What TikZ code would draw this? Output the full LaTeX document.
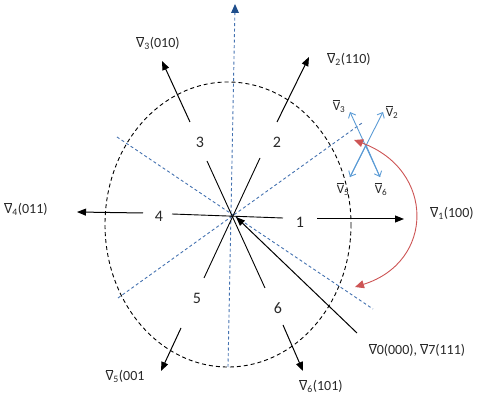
\documentclass[tikz,border=0pt]{standalone}
\usepackage{fontspec}
\setmainfont{Carlito}
\usetikzlibrary{arrows.meta}
\definecolor{bdash}{RGB}{68,114,176}
\definecolor{bdark}{RGB}{31,78,140}
\definecolor{blight}{RGB}{91,155,213}
\definecolor{redarc}{RGB}{205,85,85}
\definecolor{txt}{RGB}{40,40,40}
\newcommand{\vbar}{\ensuremath{\overline{\hbox{V}}}}
\tikzset{
  vec/.style={line width=1pt,-{Triangle[length=9pt,width=7pt]}},
  axis/.style={line width=0.9pt},
  bluedash/.style={bdash,line width=0.9pt,dash pattern=on 3pt off 2.5pt},
  ell/.style={line width=0.9pt,dash pattern=on 4pt off 3pt},
  lbl/.style={text=txt,font=\fontsize{14}{16}\selectfont,inner sep=0pt},
  num/.style={text=txt,font=\fontsize{16}{18}\selectfont,inner sep=0pt},
  small/.style={text=txt,font=\fontsize{13}{15}\selectfont,inner sep=0pt},
  star/.style={blight,line width=0.9pt,-{Straight Barb[length=4.5pt,width=8pt]}},
  redarrow/.style={redarc,line width=0.9pt,{Triangle[length=9pt,width=8pt]}-{Triangle[length=9pt,width=8pt]}}
}
\begin{document}
\begin{tikzpicture}[x=1pt,y=-1pt]
\useasboundingbox (0,0) rectangle (480,398);
% dashed ellipse
\draw[ell] (228,224.5) ellipse [x radius=123, y radius=142.5];
% blue dashed lines
\coordinate (vtop) at (235,6);
\coordinate (vbot) at (228,367);
\draw[bluedash] (vbot) -- (vtop);
\fill[bdark] (235,4) -- (231,13) -- (239,13) -- cycle;
\coordinate (d1a) at (117,137);
\coordinate (d1b) at (373,309);
\draw[bluedash] (d1a) -- (d1b);
\coordinate (d2a) at (118,298);
\coordinate (d2b) at (362,123);
\draw[bluedash] (d2a) -- (d2b);
% black lines through centre
\coordinate (Aa) at (207,161); \coordinate (Ab) at (265,288);
\coordinate (Ba) at (260,158); \coordinate (Bb) at (204,278);
\coordinate (Ha) at (172,214); \coordinate (Hb) at (283,218);
\draw[axis] (Aa) -- (Ab);
\draw[axis] (Ba) -- (Bb);
\draw[axis] (Ha) -- (Hb);
% V0/V7 line
\coordinate (z0) at (357,333); \coordinate (zc) at (236,217);
\draw[vec] (z0) -- (zc);
% vectors
\coordinate (v1s) at (317,219); \coordinate (v1e) at (404,219);
\coordinate (v2s) at (277,122); \coordinate (v2e) at (309,57);
\coordinate (v3s) at (190,122); \coordinate (v3e) at (162,61);
\coordinate (v4s) at (143,213); \coordinate (v4e) at (77,212);
\coordinate (v5s) at (181,328); \coordinate (v5e) at (161,371);
\coordinate (v6s) at (283,325); \coordinate (v6e) at (303,371);
\draw[vec] (v1s) -- (v1e);
\draw[vec] (v2s) -- (v2e);
\draw[vec] (v3s) -- (v3e);
\draw[vec] (v4s) -- (v4e);
\draw[vec] (v5s) -- (v5e);
\draw[vec] (v6s) -- (v6e);
% sector numbers
\node[num] (n1) at (300,222) {1};
\node[num] (n2) at (277,142) {2};
\node[num] (n3) at (200,142) {3};
\node[num] (n4) at (159,216) {4};
\node[num] (n5) at (197,298) {5};
\node[num] (n6) at (278,308) {6};
% labels
\node[lbl] (l1) at (452,213) {\vbar\textsubscript{1}(100)};
\node[lbl] (l2) at (349,59) {\vbar\textsubscript{2}(110)};
\node[lbl] (l3) at (158,43) {\vbar\textsubscript{3}(010)};
\node[lbl] (l4) at (26,209) {\vbar\textsubscript{4}(011)};
\node[lbl] (l5) at (125,376) {\vbar\textsubscript{5}(001};
\node[lbl] (l6) at (321,386) {\vbar\textsubscript{6}(101)};
\node[lbl] (l0) at (417,350) {\vbar0(000), \vbar7(111)};
% small blue star
\coordinate (sc) at (366,145);
\coordinate (s3) at (350,112); \coordinate (s2) at (383,112);
\coordinate (s5) at (350,177); \coordinate (s6) at (380,177);
\draw[star] (s6) -- (s3);
\draw[star] (s5) -- (s2);
\draw[star] (sc) -- (s5);
\draw[star] (sc) -- (s6);
\node[small] (t3) at (339,106) {\vbar\textsubscript{3}};
\node[small] (t2) at (392,112) {\vbar\textsubscript{2}};
\node[small] (t5) at (343,189) {\vbar\textsubscript{5}};
\node[small] (t6) at (381,189) {\vbar\textsubscript{6}};
% red arc
\coordinate (r1) at (354,140); \coordinate (r2) at (355,287);
\draw[redarrow] (r1) .. controls (435,170) and (435,262) .. (r2);
\end{tikzpicture}
\end{document}
